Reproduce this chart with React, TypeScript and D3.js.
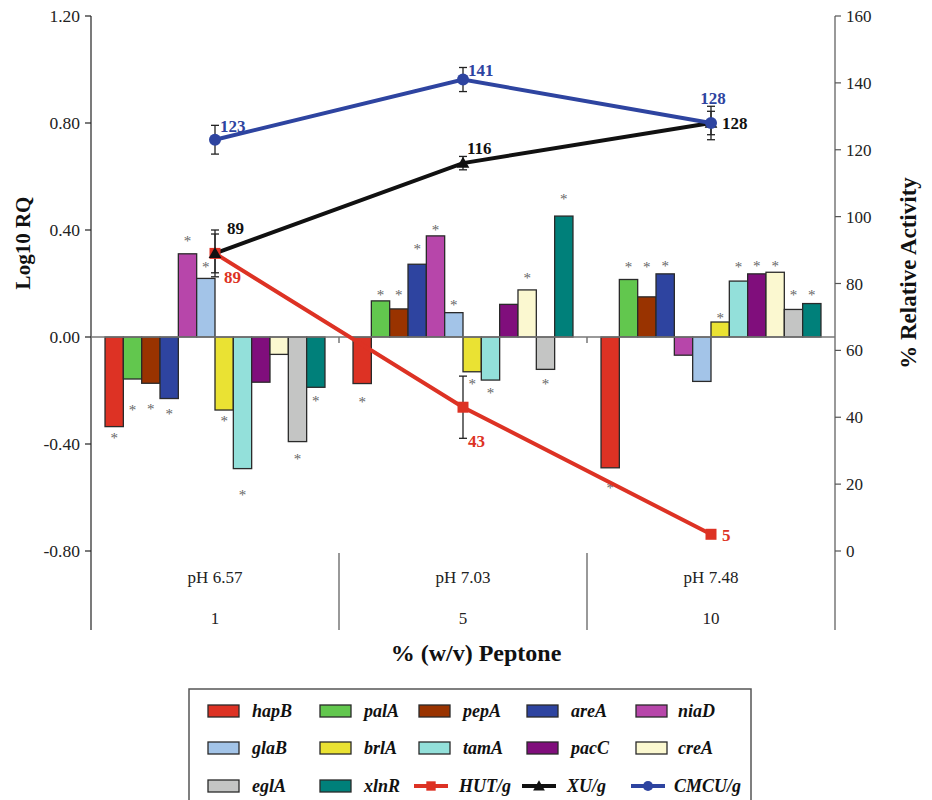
import React from 'react';
import * as d3 from 'd3';

// ---------- data ----------
const groups = ['pH 6.57', 'pH 7.03', 'pH 7.48'];
const peptone = ['1', '5', '10'];
const genes = ['hapB', 'palA', 'pepA', 'areA', 'niaD', 'glaB', 'brlA', 'tamA', 'pacC', 'creA', 'eglA', 'xlnR'];
const geneColors = ['#DD3224', '#62C74E', '#993300', '#2E44A0', '#B746AA', '#A3C4E8', '#EAE233', '#93E0DA', '#800E7C', '#FBF8D0', '#C4C5C4', '#00807A'];

// Log10 RQ per gene, one array per culture condition
const rqPh657 = [-0.335, -0.157, -0.173, -0.23, 0.311, 0.219, -0.273, -0.492, -0.169, -0.065, -0.391, -0.188];
const rqPh703 = [-0.174, 0.135, 0.105, 0.272, 0.378, 0.091, -0.13, -0.161, 0.122, 0.176, -0.121, 0.452];
const rqPh748 = [-0.489, 0.215, 0.15, 0.236, -0.068, -0.166, 0.056, 0.209, 0.236, 0.242, 0.103, 0.125];
// significance markers (value = spread beyond bar end, null = not significant)
const sigPh657 = [0.034, 0.107, 0.09, 0.05, 0.057, 0.052, 0.035, 0.092, null, null, 0.058, 0.044];
const sigPh703 = [0.06, 0.029, 0.059, 0.066, 0.031, 0.037, 0.04, 0.04, null, 0.053, 0.046, 0.07];
const sigPh748 = [0.067, 0.056, 0.121, 0.036, null, null, 0.024, 0.062, 0.036, 0.03, 0.06, 0.039];

// % relative activity
const hutPerG = [89, 43, 5];
const hutErr = [5.8, 9.3, 0];
const xuPerG = [89, 116, 128];
const xuErr = [7, 2, 3.5];
const cmcuPerG = [123, 141, 128];
const cmcuErr = [4.3, 3.6, 5];

const leftTicks = [-0.8, -0.4, 0, 0.4, 0.8, 1.2];
const rightTicks = [0, 20, 40, 60, 80, 100, 120, 140, 160];

// ---------- layout ----------
const W = 932, H = 800;
const plotL = 91, plotR = 835, plotT = 16, plotB = 551, catB = 630;
const FONT = "'Liberation Serif', 'Times New Roman', serif";

const rqByGroup = [rqPh657, rqPh703, rqPh748];
const sigByGroup = [sigPh657, sigPh703, sigPh748];

const x0 = d3.scaleBand<string>().domain(groups).range([plotL, plotR]).paddingInner(0).paddingOuter(0);
const x1 = d3.scaleBand<string>().domain(genes).range([0, x0.bandwidth()]).paddingInner(0).paddingOuter(0.765);
const yL = d3.scaleLinear().domain([-0.8, 1.2]).range([plotB, plotT]);
const yR = d3.scaleLinear().domain([0, 160]).range([plotB, plotT]);
const cx = (i: number) => (x0(groups[i]) as number) + x0.bandwidth() / 2;

const series = [
  { name: 'HUT/g', vals: hutPerG, err: hutErr, color: '#DD3224', marker: 'square',
    labels: [{ dx: 9, dy: 30, a: 'start' }, { dx: 5, dy: 40, a: 'start' }, { dx: 11, dy: 7, a: 'start' }] },
  { name: 'XU/g', vals: xuPerG, err: xuErr, color: '#111111', marker: 'triangle',
    labels: [{ dx: 12, dy: -19, a: 'start' }, { dx: 4, dy: -9, a: 'start' }, { dx: 11, dy: 6, a: 'start' }] },
  { name: 'CMCU/g', vals: cmcuPerG, err: cmcuErr, color: '#2E44A0', marker: 'circle',
    labels: [{ dx: 5, dy: -8, a: 'start' }, { dx: 5, dy: -3.5, a: 'start' }, { dx: 2, dy: -19, a: 'middle' }] },
];

const line = d3.line<number>().x((_, i) => cx(i)).y((v) => yR(v));
const triPath = d3.symbol().type(d3.symbolTriangle).size(70)() as string;
const triPathSmall = d3.symbol().type(d3.symbolTriangle).size(60)() as string;

function Marker({ kind, x, y, color, s = 1 }: { kind: string; x: number; y: number; color: string; s?: number }) {
  if (kind === 'square') return <rect x={x - 5.5 * s} y={y - 5.5 * s} width={11 * s} height={11 * s} fill={color} />;
  if (kind === 'triangle') return <path d={s === 1 ? triPath : triPathSmall} transform={`translate(${x},${y + 1})`} fill={color} />;
  return <circle cx={x} cy={y} r={6 * s} fill={color} />;
}

export default function App() {
  const legendSwX = [208, 320, 419, 527, 636];
  const legendTxX = [252, 364, 463, 571, 678];
  const legendRowY = [711, 748, 786];
  const legendItems = [
    ...genes.map((g, i) => ({ name: g, type: 'bar', color: geneColors[i], marker: '' })),
    ...series.map((s) => ({ name: s.name, type: 'line', color: s.color, marker: s.marker })),
  ];

  return (
    <div style={{ position: 'absolute', left: 0, top: 0, background: '#fff' }}>
      <svg width={W} height={H} style={{ display: 'block', fontFamily: FONT }}>
        <rect width={W} height={H} fill="#fff" />

        {/* left axis */}
        <line x1={plotL} x2={plotL} y1={plotT} y2={catB} stroke="#222" strokeWidth={1.2} />
        {leftTicks.map((t) => (
          <g key={t}>
            <line x1={plotL - 6} x2={plotL} y1={yL(t)} y2={yL(t)} stroke="#222" strokeWidth={1.2} />
            <text x={plotL - 11} y={yL(t) + 6} textAnchor="end" fontSize={17.5} fill="#222">
              {t.toFixed(2)}
            </text>
          </g>
        ))}
        <text transform={`translate(30,${243}) rotate(-90)`} textAnchor="middle" fontSize={21} fontWeight="bold" fill="#111">
          Log10 RQ
        </text>

        {/* right axis */}
        <line x1={plotR} x2={plotR} y1={plotT} y2={catB} stroke="#555" strokeWidth={1.2} />
        {rightTicks.map((t) => (
          <g key={t}>
            <line x1={plotR} x2={plotR + 6} y1={yR(t)} y2={yR(t)} stroke="#555" strokeWidth={1.2} />
            <text x={plotR + 11} y={yR(t) + 6} textAnchor="start" fontSize={17} fill="#222">
              {t}
            </text>
          </g>
        ))}
        <text transform={`translate(916,${273}) rotate(-90)`} textAnchor="middle" fontSize={23} fontWeight="bold" fill="#111">
          % Relative Activity
        </text>

        {/* category axis (multi-level) */}
        {groups.map((g, i) => (
          <g key={g}>
            {i > 0 && (
              <line x1={x0(g) as number} x2={x0(g) as number} y1={plotB + 2} y2={catB} stroke="#555" strokeWidth={1.2} />
            )}
            {i > 0 && (
              <line x1={x0(g) as number} x2={x0(g) as number} y1={yL(0)} y2={yL(0) + 6} stroke="#555" strokeWidth={1.2} />
            )}
            <text x={cx(i)} y={583} textAnchor="middle" fontSize={17} fill="#222">{g}</text>
            <text x={cx(i)} y={624} textAnchor="middle" fontSize={17} fill="#222">{peptone[i]}</text>
          </g>
        ))}
        <text x={(plotL + plotR) / 2 + 13} y={661} textAnchor="middle" fontSize={24} fontWeight="bold" fill="#111">
          % (w/v) Peptone
        </text>

        {/* bars */}
        {groups.map((g, gi) => (
          <g key={g}>
            {genes.map((gene, i) => {
              const v = rqByGroup[gi][i];
              const xb = (x0(g) as number) + (x1(gene) as number);
              const y0 = yL(0), yv = yL(v);
              return (
                <rect key={gene} x={xb} y={Math.min(y0, yv)} width={x1.bandwidth()} height={Math.abs(yv - y0)}
                  fill={geneColors[i]} stroke="#2a2a2a" strokeWidth={1.3} />
              );
            })}
          </g>
        ))}
        {/* zero line */}
        <line x1={plotL} x2={plotR} y1={yL(0)} y2={yL(0)} stroke="#777" strokeWidth={1.5} />

        {/* significance asterisks */}
        {groups.map((g, gi) => (
          <g key={g}>
            {genes.map((gene, i) => {
              const s = sigByGroup[gi][i];
              if (s == null) return null;
              const v = rqByGroup[gi][i];
              const yc = yL(v >= 0 ? v + s : v - s);
              const xc = (x0(g) as number) + (x1(gene) as number) + x1.bandwidth() / 2;
              return (
                <text key={gene} x={xc} y={yc + 7} textAnchor="middle" fontSize={15} fill="#666">*</text>
              );
            })}
          </g>
        ))}

        {/* lines */}
        {series.map((s) => (
          <path key={s.name} d={line(s.vals) as string} fill="none" stroke={s.color} strokeWidth={4} />
        ))}
        {/* error bars */}
        {series.map((s) => (
          <g key={s.name}>
            {s.vals.map((v, i) =>
              s.err[i] > 0 ? (
                <g key={i} stroke="#222" strokeWidth={1.3}>
                  <line x1={cx(i)} x2={cx(i)} y1={yR(v + s.err[i])} y2={yR(v - s.err[i])} />
                  <line x1={cx(i) - 4} x2={cx(i) + 4} y1={yR(v + s.err[i])} y2={yR(v + s.err[i])} />
                  <line x1={cx(i) - 4} x2={cx(i) + 4} y1={yR(v - s.err[i])} y2={yR(v - s.err[i])} />
                </g>
              ) : null
            )}
          </g>
        ))}
        {/* markers */}
        {series.map((s) => (
          <g key={s.name}>
            {s.vals.map((v, i) => (
              <Marker key={i} kind={s.marker} x={cx(i)} y={yR(v)} color={s.color} />
            ))}
          </g>
        ))}
        {/* value labels */}
        {series.map((s) => (
          <g key={s.name}>
            {s.vals.map((v, i) => (
              <text key={i} x={cx(i) + s.labels[i].dx} y={yR(v) + s.labels[i].dy} textAnchor={s.labels[i].a as any}
                fontSize={17} fontWeight="bold" fill={s.color}>
                {v}
              </text>
            ))}
          </g>
        ))}

        {/* legend */}
        <rect x={189} y={689} width={562} height={130} fill="#fff" stroke="#555" strokeWidth={1.5} />
        {legendItems.map((it, k) => {
          const row = Math.floor(k / 5), col = k % 5;
          const y = legendRowY[row];
          const sx = legendSwX[col];
          if (it.type === 'bar') {
            return (
              <g key={it.name}>
                <rect x={sx} y={y - 6} width={31} height={12} fill={it.color} stroke="#2a2a2a" strokeWidth={1.3} />
                <text x={legendTxX[col]} y={y + 6} fontSize={18} fontWeight="bold" fontStyle="italic" fill="#111">{it.name}</text>
              </g>
            );
          }
          return (
            <g key={it.name}>
              <line x1={sx - 5} x2={sx + 29} y1={y} y2={y} stroke={it.color} strokeWidth={4} />
              <Marker kind={it.marker} x={sx + 12} y={y} color={it.color} s={0.85} />
              <text x={legendTxX[col] - 4} y={y + 6} fontSize={18} fontWeight="bold" fontStyle="italic" fill="#111">{it.name}</text>
            </g>
          );
        })}
      </svg>
    </div>
  );
}
